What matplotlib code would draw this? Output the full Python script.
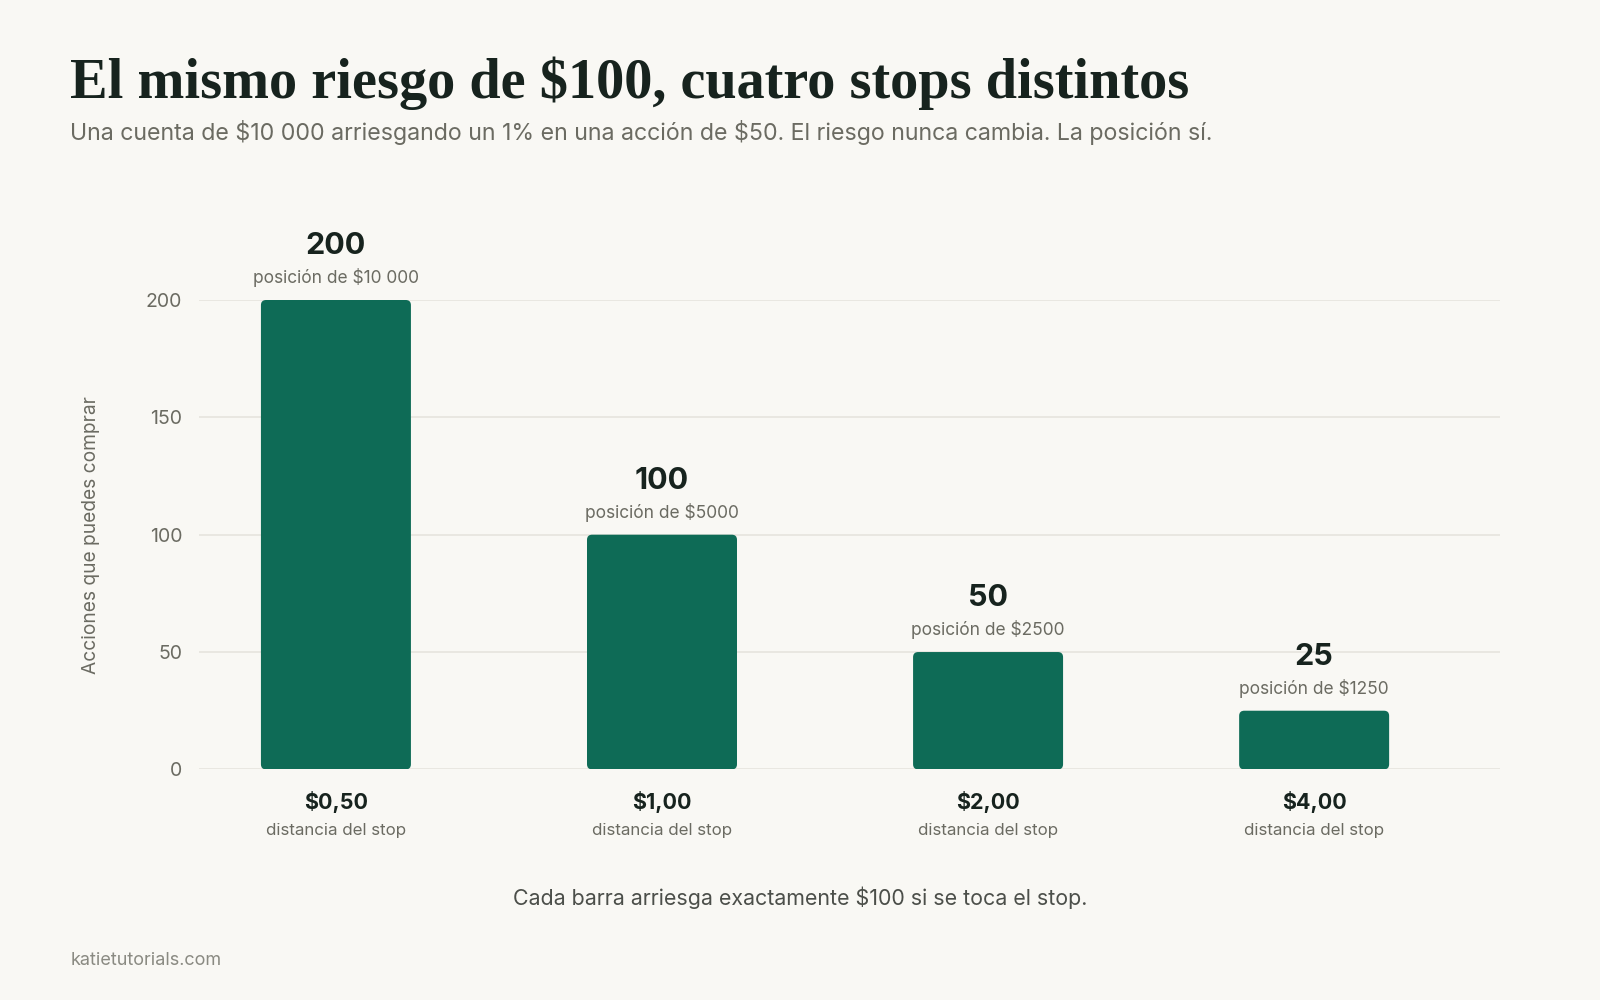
import matplotlib.pyplot as plt
from matplotlib.patches import FancyBboxPatch

plt.rcParams["text.parse_math"] = False

# data
stops = ["$0,50", "$1,00", "$2,00", "$4,00"]
shares = [200, 100, 50, 25]
positions = ["posición de $10 000", "posición de $5000", "posición de $2500", "posición de $1250"]

BG = "#f9f8f4"
BAR = "#0e6b56"
DARK = "#17231e"
GRAY = "#6b6b62"

W, H = 1568, 980  # reference pixel grid
def fx(x): return x / W
def fy(y): return 1 - y / H

fig = plt.figure(figsize=(16, 10), dpi=100, facecolor=BG)
ax = fig.add_axes([fx(195), fy(754), fx(1470) - fx(195), fy(294) - fy(754)])
ax.set_facecolor(BG)

xs = list(range(len(stops)))
bars = ax.bar(xs, shares, width=0.46, color=BAR)

ax.set_xlim(-0.42, 3.57)
ax.set_ylim(0, 200)

# swap the bars for rounded ones
px_x = (1470 - 195) / (3.57 + 0.42)
px_y = (754 - 294) / 200
for b in bars:
    b.set_visible(False)
    r = 5 / px_x
    p = FancyBboxPatch((b.get_x(), 0), b.get_width(), b.get_height(),
                       boxstyle=f"round,pad=0,rounding_size={r}",
                       mutation_aspect=px_x / px_y,
                       facecolor=BAR, edgecolor="none", zorder=3)
    ax.add_patch(p)

ax.set_yticks([0, 50, 100, 150, 200])
ax.yaxis.grid(True, color="#e6e4de", linewidth=1.2)
ax.set_axisbelow(True)
ax.set_xticks([])
for s in ax.spines.values():
    s.set_visible(False)
ax.tick_params(axis="y", length=0, pad=12, labelsize=14, labelcolor=GRAY)
for lab in ax.get_yticklabels():
    lab.set_fontfamily("Inter")
ax.set_ylabel("Acciones que puedes comprar", fontsize=13.8, color=GRAY,
              family="Inter", labelpad=33)

for x, v, pos, st in zip(xs, shares, positions, stops):
    ax.annotate(str(v), (x, v), xytext=(0, 46), textcoords="offset pixels",
                ha="center", va="baseline", fontsize=22, fontweight="bold",
                color=DARK, family="Inter", annotation_clip=False)
    ax.annotate(pos, (x, v), xytext=(0, 17), textcoords="offset pixels",
                ha="center", va="baseline", fontsize=12.5, color=GRAY,
                family="Inter", annotation_clip=False)
    ax.annotate(st, (x, 0), xytext=(0, -33), textcoords="offset pixels",
                ha="center", va="center", fontsize=15.5, fontweight="bold",
                color=DARK, family="Inter", annotation_clip=False)
    ax.annotate("distancia del stop", (x, 0), xytext=(0, -61), textcoords="offset pixels",
                ha="center", va="center", fontsize=12.2, color=GRAY,
                family="Inter", annotation_clip=False)

fig.text(fx(69), fy(82), "El mismo riesgo de $100, cuatro stops distintos",
         ha="left", va="center", fontsize=40.5, fontweight="bold", color=DARK,
         family="Liberation Serif")
fig.text(fx(69), fy(130), "Una cuenta de $10 000 arriesgando un 1% en una acción de $50. El riesgo nunca cambia. La posición sí.",
         ha="left", va="center", fontsize=16.7, color=GRAY, family="Inter")
fig.text(fx(784), fy(880), "Cada barra arriesga exactamente $100 si se toca el stop.",
         ha="center", va="center", fontsize=15.4, color="#4c4f4a", family="Inter")
fig.text(fx(69), fy(941), "katietutorials.com", ha="left", va="center",
         fontsize=13, color="#8a8a82", family="Inter")

fig.savefig("out.png", dpi=100, facecolor=BG)
